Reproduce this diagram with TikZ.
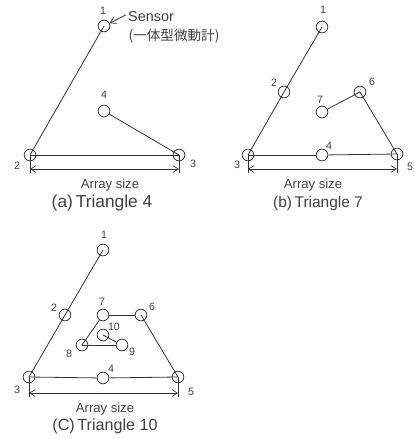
\documentclass[tikz,border=0pt]{standalone}
\usepackage{fontspec}
\setmainfont{Liberation Sans}
\newfontfamily\jpfont{Noto Sans CJK JP}
\usetikzlibrary{arrows.meta,positioning}

\begin{document}
\begin{tikzpicture}[x=0.75pt,y=-0.75pt,line width=0.6pt,draw=black!80,text=black!75,
  sensor/.style={draw, circle, minimum size=8.8pt, inner sep=0pt},
  num/.style={font=\fontsize{8}{9}\selectfont, inner sep=0pt},
  sizetext/.style={font=\fontsize{9.8}{12}\selectfont, inner sep=0pt},
  caption/.style={inner sep=0pt},
  dimline/.style={{Straight Barb[length=4pt,width=5pt]}-{Straight Barb[length=4pt,width=5pt]}, line width=0.5pt}]
\useasboundingbox (0,0) rectangle (414,439);
% (a) triangle 4
\foreach \x/\y/\lx/\ly/\name in {104/26/103/11/1, 30/155/17/166/2, 179/155/193/164/3, 104/111/104/95/4}{
  \node[sensor] (a\name) at (\x,\y) {};
  \node[num] (la\name) at (\lx,\ly) {\name};
}
\draw (a1.center) -- (a2.center);
\draw (a2.center) -- (a3.center);
\draw (a3.center) -- (a4);
\node[font=\fontsize{10.8}{13}\selectfont, inner sep=0pt] (sensorname) at (151,17) {Sensor};
\node[font=\fontsize{10.2}{12}\jpfont, inner sep=0pt] (sensortype) at (174,36) {(一体型微動計)};
\draw[-{Straight Barb[length=4pt,width=5pt]}] (sensorname.west) ++(-2,-2) -- (a1);
\coordinate (atl) at (30,173);
\coordinate (atr) at (179,173);
\coordinate (adl) at (30,169);
\coordinate (adr) at (179,169);
\draw (a2.center) -- (atl);
\draw (a3.center) -- (atr);
\draw[dimline] (adl) -- (adr);
\node[sizetext] (asize) at (110,185) {Array size};
\node[caption, font=\fontsize{13}{15}\selectfont] (acap) at (102,203) {(a)\,Triangle 4};
% (b) triangle 7
\foreach \x/\y/\lx/\ly/\name in {322/27/323/10/1, 284/92/274/83/2, 248/155/237/165/3, 322/155/329/146/4, 397/154/410/167/5, 360/92/372/82/6, 322/112/320/100/7}{
  \node[sensor] (b\name) at (\x,\y) {};
  \node[num] (lb\name) at (\lx,\ly) {\name};
}
\draw (b1.center) -- (b2.center);
\draw (b2.center) -- (b3.center);
\draw (b3.center) -- (b4);
\draw (b4) -- (b5.center);
\draw (b5.center) -- (b6.center);
\draw (b6.center) -- (b7);
\coordinate (btl) at (248,173);
\coordinate (btr) at (397,173);
\coordinate (bdl) at (248,169);
\coordinate (bdr) at (397,169);
\draw (b3.center) -- (btl);
\draw (b5.center) -- (btr);
\draw[dimline] (bdl) -- (bdr);
\node[sizetext] (bsize) at (313,185) {Array size};
\node[caption, font=\fontsize{11.6}{14}\selectfont] (bcap) at (318,203) {(b)\,Triangle 7};
% (c) triangle 10
\foreach \x/\y/\lx/\ly/\name in {103/250/104/235/1, 65/315/54/308/2, 29/377/17/390/3, 103/378/111/369/4, 178/377/191/392/5, 141/315/152/307/6, 103/315/102/302/7, 82/345/69/354/8, 122/345/132/352/9, 103/335/114/327/10}{
  \node[sensor] (c\name) at (\x,\y) {};
  \node[num] (lc\name) at (\lx,\ly) {\name};
}
\draw (c1.center) -- (c2.center);
\draw (c2.center) -- (c3.center);
\draw (c3.center) -- (c4);
\draw (c4) -- (c5.center);
\draw (c5.center) -- (c6.center);
\draw (c6) -- (c7);
\draw (c7) -- (c8.center);
\draw (c8.center) -- (c9);
\draw (c9) -- (c10.center);
\coordinate (ctl) at (29,397);
\coordinate (ctr) at (178,397);
\coordinate (cdl) at (29,393);
\coordinate (cdr) at (178,393);
\draw (c3.center) -- (ctl);
\draw (c5.center) -- (ctr);
\draw[dimline] (cdl) -- (cdr);
\node[sizetext] (csize) at (105,409) {Array size};
\node[caption, font=\fontsize{12.1}{14}\selectfont] (ccap) at (105,426) {(C)\,Triangle 10};
\end{tikzpicture}
\end{document}
